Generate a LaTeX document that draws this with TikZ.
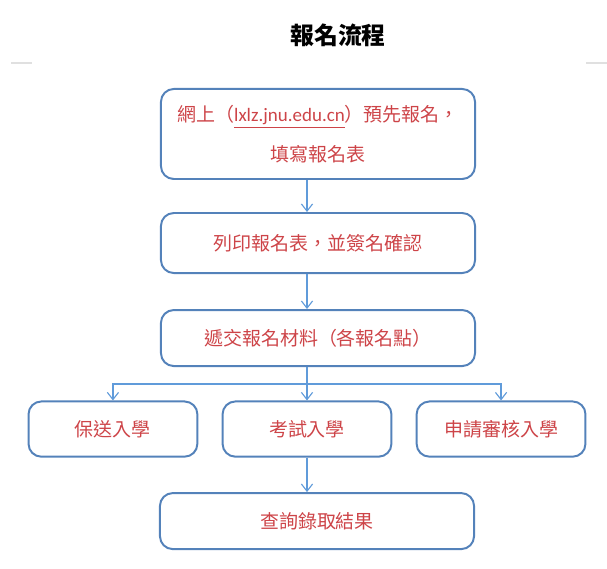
\documentclass[tikz,border=0pt]{standalone}
\usepackage{fontspec}
\setmainfont{Noto Sans CJK TC}
\newfontfamily\urlfont{Carlito}
\usetikzlibrary{shapes,arrows.meta,positioning,calc}
\definecolor{boxblue}{RGB}{84,130,186}
\definecolor{lineblue}{RGB}{96,155,218}
\definecolor{textred}{RGB}{205,68,72}
\tikzstyle{block} = [draw=boxblue, line width=1.4pt, rounded corners=0.32cm, rectangle, text=textred, align=center, font=\fontsize{13.5}{28}\selectfont]
\tikzstyle{wide} = [block, minimum width=7.85cm, minimum height=1.4cm]
\tikzstyle{narrow} = [block, minimum width=4.22cm, minimum height=1.38cm]
\tikzstyle{flow} = [draw=lineblue, line width=0.8pt]

\begin{document}
\begin{tikzpicture}[x=0.025cm, y=-0.025cm, >={Straight Barb[length=1.8mm,width=2.8mm]}]
    \useasboundingbox (0,0) rectangle (607,569);
    % Title
    \node [font=\fontsize{17}{20}\selectfont\bfseries] (title) at (338,35) {報名流程};
    \draw [black!12, line width=0.8pt] (11,63) -- (32,63);
    \draw [black!12, line width=0.8pt] (586,63) -- (607,63);

    % Steps
    \node [wide, minimum height=2.25cm] (apply) at (318,134)
        {網上（{\urlfont\underline{lxlz.jnu.edu.cn}}）預先報名，\\ 填寫報名表};
    \node [wide, minimum height=1.5cm, below of=apply, node distance=2.725cm] (print) {列印報名表，並簽名確認};
    \node [wide, below of=print, node distance=2.375cm] (submit) {遞交報名材料（各報名點）};
    \node [narrow, below of=submit, node distance=2.275cm, xshift=-0.275cm] (exam) {考試入學};
    \node [narrow, left of=exam, node distance=4.85cm] (recommend) {保送入學};
    \node [narrow, right of=exam, node distance=4.85cm] (review) {申請審核入學};
    \node [wide, below of=exam, node distance=2.3cm, xshift=0.25cm] (result) {查詢錄取結果};
    \coordinate (split) at ($(submit.south -| exam)+(0,-0.425cm)$);

    % Connections
    \draw [flow, ->] (apply.south -| exam) -- (print.north -| exam);
    \draw [flow, ->] (print.south -| exam) -- (submit.north -| exam);
    \draw [flow] (submit.south -| exam) -- (split);
    \draw [flow, ->] (split) -- (exam);
    \draw [flow, ->] (split) -| (recommend);
    \draw [flow, ->] (split) -| (review);
    \draw [flow, ->] (exam) -- (result.north -| exam);
\end{tikzpicture}
\end{document}
